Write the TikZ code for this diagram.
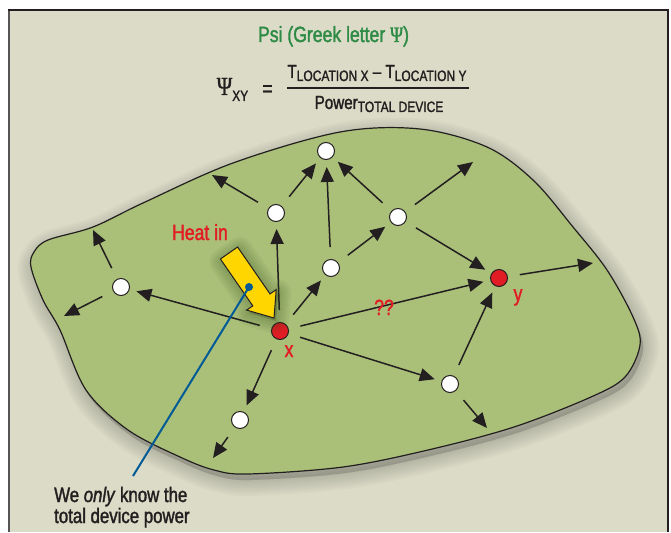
\documentclass[tikz,border=0pt]{standalone}
\usepackage{fontspec}
\setmainfont{Liberation Sans}[FakeStretch=0.8, FakeBold=1.6]
\newfontfamily\psifont{Liberation Serif}[FakeStretch=0.8, FakeBold=1.2]
\usetikzlibrary{arrows.meta}
\definecolor{bgc}{RGB}{220,219,199}
\definecolor{blobc}{RGB}{170,192,121}
\definecolor{redc}{RGB}{226,28,36}
\definecolor{titlec}{RGB}{46,139,69}
\definecolor{bluec}{RGB}{0,90,150}
\definecolor{yelc}{RGB}{255,214,0}
\definecolor{inkc}{RGB}{35,31,32}
\definecolor{framec}{RGB}{85,85,85}
\definecolor{glowc}{RGB}{50,70,20}
\newcommand\lowsub[1]{\raisebox{-3pt}{\fontsize{15}{15}\selectfont #1}}
\tikzset{
 wnode/.style={circle, draw=inkc, line width=1pt, fill=white, minimum size=17pt, inner sep=0pt},
 rnode/.style={wnode, fill=redc},
 conn/.style={draw=inkc, line width=1.5pt, -{Triangle[length=15pt,width=13pt]}, shorten <=12pt, shorten >=7pt},
 connfree/.style={conn, shorten >=0pt},
 lbl/.style={font=\fontsize{22}{22}\selectfont, text=redc, inner sep=0pt},
 note/.style={font=\fontsize{21}{21}\selectfont, text=inkc, inner sep=0pt, anchor=base west},
}
\begin{document}
\begin{tikzpicture}[x=1pt,y=-1pt]
\useasboundingbox (0,0) rectangle (671,532);
\def\blobpath{plot[smooth cycle, tension=0.55] coordinates {(31,267) (43,300) (60,330) (86,390) (128,430) (180,457) (214,470) (248,474) (343,467) (428,450) (514,427) (591,397) (625,377) (640,345) (633,317) (607,270) (573,227) (533,180) (487,147) (420,129) (340,132) (233,163) (143,203) (93,227) (48,240) (34,252)}}
\def\yarrow{(237.6,247) -- (270.0,293.9) -- (276.2,289.7) -- (274,318) -- (246.6,310.1) -- (252.8,305.9) -- (220.4,259) -- cycle}
% frame
\fill[white] (0,0) rectangle (671,532);
\fill[bgc] (9,10) rectangle (668,532);
\draw[line width=2pt, framec] (9,532) -- (9,10);
\draw[line width=1.5pt, inkc] (8,10) -- (668,10) -- (668,532);
% blob shadow (soft)
\begin{scope}[shift={(3,6)}]
\foreach \w in {32,28,24,20,16,12,8,4}{
 \path[fill=black, draw=black, fill opacity=0.018, draw opacity=0.018, line width=\w pt, line join=round] \blobpath;}
\end{scope}
\draw[inkc, line width=1.2pt, fill=blobc] \blobpath;
% title and formula
\node[anchor=base, font=\fontsize{22}{22}\selectfont, text=titlec, inner sep=0pt] (title) at (333.5,42) {Psi (Greek letter {\psifont\fontsize{22}{22}\selectfont Ψ})};
\node[anchor=base, font=\psifont\fontsize{26}{26}\selectfont, text=inkc, inner sep=0pt] (psi) at (224.5,95) {Ψ};
\node[anchor=base west, font=\fontsize{15}{15}\selectfont, text=inkc, inner sep=0pt] (xy) at (232,101) {XY};
\node[anchor=base, font=\fontsize{22}{22}\selectfont, text=inkc, inner sep=0pt] (eq) at (267.5,96) {=};
\node[anchor=base, font=\fontsize{19}{19}\selectfont, text=inkc, inner sep=0pt] (num) at (377,78) {T\lowsub{LOCATION X} – T\lowsub{LOCATION Y}};
\node[anchor=base, font=\fontsize{19}{19}\selectfont, text=inkc, inner sep=0pt] (den) at (379,109) {Power\lowsub{TOTAL DEVICE}};
\draw[inkc, line width=1.5pt] (287,88) -- (469,88);
% network nodes
\node[wnode] (A) at (326,151) {};
\node[wnode] (B) at (276,213) {};
\node[wnode] (C) at (398,217) {};
\node[wnode] (D) at (331,268) {};
\node[wnode] (E) at (121,287) {};
\node[rnode] (X) at (280,331) {};
\node[rnode] (Y) at (499,278) {};
\node[wnode] (F) at (450,384) {};
\node[wnode] (G) at (240,420) {};
\coordinate (c1) at (93,230);
\coordinate (c2) at (64,316);
\coordinate (c3) at (212,175);
\coordinate (c4) at (473,162);
\coordinate (c5) at (593,263);
\coordinate (c6) at (487,428);
\coordinate (c7) at (213,458);
% connectors
\draw[conn] (X) -- (E);
\draw[connfree] (E) -- (c1);
\draw[connfree] (E) -- (c2);
\draw[conn] (X) -- (B);
\draw[connfree] (B) -- (c3);
\draw[conn] (B) -- (A);
\draw[conn] (D) -- (A);
\draw[conn] (X) -- (D);
\draw[conn] (D) -- (C);
\draw[conn] (C) -- (A);
\draw[connfree] (C) -- (c4);
\draw[conn] (C) -- (Y);
\draw[conn] (X) -- (Y);
\draw[connfree] (Y) -- (c5);
\draw[conn] (F) -- (Y);
\draw[conn] (X) -- (F);
\draw[connfree] (F) -- (c6);
\draw[conn] (X) -- (G);
\draw[connfree] (G) -- (c7);
% yellow arrow with glow
\begin{scope}[shift={(2,3)}]
\foreach \w in {26,21,16,11,6}{
 \path[fill=glowc, draw=glowc, fill opacity=0.06, draw opacity=0.06, line width=\w pt, line join=round] \yarrow;}
\end{scope}
\draw[inkc, line width=1pt, fill=yelc, line join=miter] \yarrow;
% labels
\node[lbl, anchor=base] (heat) at (200,240) {Heat in};
\node[lbl, anchor=base] (xl) at (289,357) {x};
\node[lbl, anchor=base] (yl) at (518,301) {y};
\node[lbl, anchor=base] (qq) at (384,315) {??};
% callout
\node[circle, fill=bluec, minimum size=8pt, inner sep=0pt] (bdot) at (249,287) {};
\coordinate (bend) at (133,476);
\draw[bluec, line width=2pt] (bdot.center) -- (bend);
\node[note] (note1) at (54,502) {We \textit{only} know the};
\node[note] (note2) at (54,523) {total device power};
\end{tikzpicture}
\end{document}
